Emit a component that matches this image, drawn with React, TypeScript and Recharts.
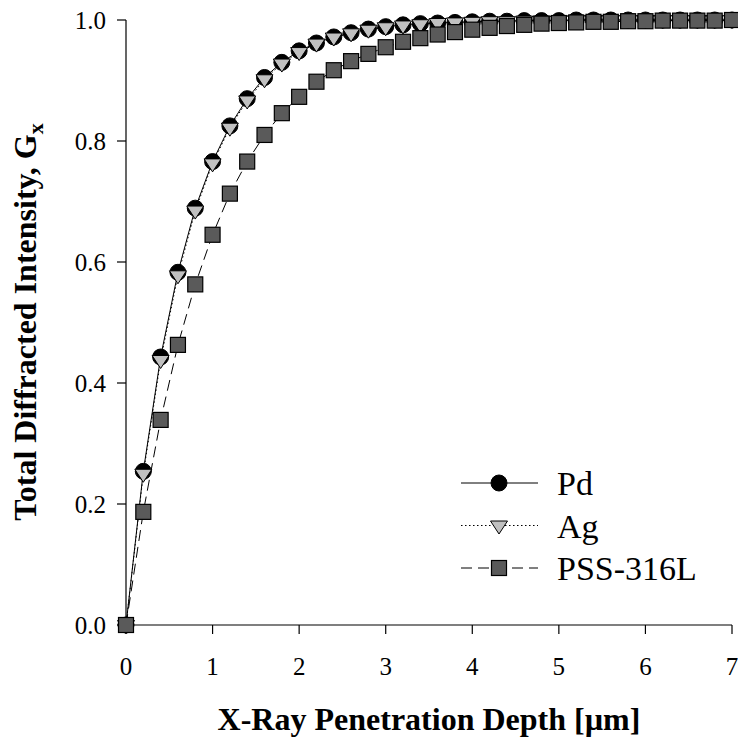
import React from 'react';
import { ComposedChart, Line, XAxis, YAxis } from 'recharts';

const depth = [0, 0.2, 0.4, 0.6, 0.8, 1.0, 1.2, 1.4, 1.6, 1.8, 2.0, 2.2, 2.4, 2.6, 2.8, 3.0, 3.2, 3.4, 3.6, 3.8, 4.0, 4.2, 4.4, 4.6, 4.8, 5.0, 5.2, 5.4, 5.6, 5.8, 6.0, 6.2, 6.4, 6.6, 6.8, 7.0];
const pd = [0, 0.254, 0.443, 0.583, 0.689, 0.766, 0.825, 0.870, 0.905, 0.930, 0.949, 0.962, 0.972, 0.979, 0.985, 0.989, 0.992, 0.994, 0.995, 0.996, 0.997, 0.998, 0.998, 0.999, 0.999, 0.999, 1.0, 1.0, 1.0, 1.0, 1.0, 1.0, 1.0, 1.0, 1.0, 1.0];
const ag = [0, 0.250, 0.438, 0.578, 0.685, 0.763, 0.822, 0.867, 0.902, 0.928, 0.947, 0.961, 0.971, 0.978, 0.984, 0.988, 0.991, 0.993, 0.995, 0.996, 0.997, 0.998, 0.998, 0.999, 0.999, 0.999, 1.0, 1.0, 1.0, 1.0, 1.0, 1.0, 1.0, 1.0, 1.0, 1.0];
const pss = [0, 0.187, 0.339, 0.463, 0.563, 0.645, 0.713, 0.766, 0.810, 0.846, 0.873, 0.898, 0.917, 0.932, 0.944, 0.955, 0.964, 0.970, 0.976, 0.980, 0.984, 0.987, 0.990, 0.992, 0.994, 0.995, 0.996, 0.997, 0.997, 0.998, 0.998, 0.999, 0.999, 0.999, 0.999, 1.0];

const xTicks = [0, 1, 2, 3, 4, 5, 6, 7];
const xMinorTicks = [0.5, 1.5, 2.5, 3.5, 4.5, 5.5, 6.5];
const yTicks = [0, 0.2, 0.4, 0.6, 0.8, 1.0];
const yMinorTicks = [0.1, 0.3, 0.5, 0.7, 0.9];

const seriesNames = ['Pd', 'Ag', 'PSS-316L'];
const xTitle = 'X-Ray Penetration Depth [\u00b5m]';
const yTitle = 'Total Diffracted Intensity, G';
const yTitleSub = 'x';

const data = depth.map((d, i) => ({ depth: d, pd: pd[i], ag: ag[i], pss: pss[i] }));

const SERIF = 'Liberation Serif';

function CircleMark({ cx, cy }: { cx: number; cy: number }) {
  return <circle cx={cx} cy={cy} r={8} fill="#000" stroke="#000" strokeWidth={1} />;
}
function TriMark({ cx, cy }: { cx: number; cy: number }) {
  const p = `${cx - 8.5},${cy - 4.5} ${cx + 8.5},${cy - 4.5} ${cx},${cy + 8.5}`;
  return <polygon points={p} fill="#c0c0c0" stroke="#000" strokeWidth={1} />;
}
function SquareMark({ cx, cy }: { cx: number; cy: number }) {
  return <rect x={cx - 7.5} y={cy - 7.5} width={15} height={15} fill="#5a5a5a" stroke="#000" strokeWidth={1.2} />;
}

const dotFn = (Mark: any) => (props: any) => {
  const { cx, cy, index } = props;
  if (cx == null || cy == null) return <g key={index} />;
  return <Mark key={index} cx={cx} cy={cy} />;
};

const legendRows = [
  { name: seriesNames[0], Mark: CircleMark, dash: undefined },
  { name: seriesNames[1], Mark: TriMark, dash: '1.5 2.5' },
  { name: seriesNames[2], Mark: SquareMark, dash: '11 6' },
];

const axisStroke = { stroke: '#000', strokeWidth: 1.2 };
const tickFont = { fontFamily: SERIF, fontSize: 25, fill: '#000' };

export default function App() {
  return (
    <div style={{ position: 'absolute', left: 0, top: 0 }}>
      <ComposedChart width={738} height={738} data={data} margin={{ top: 20, right: 6, bottom: 0, left: 0 }}>
        <XAxis xAxisId="b" dataKey="depth" type="number" domain={[0, 7]} ticks={xTicks} orientation="bottom" height={113}
          tickSize={9} tickMargin={23} axisLine={axisStroke} tickLine={axisStroke}
          tick={tickFont} interval={0} />
        <XAxis xAxisId="bIn" dataKey="depth" type="number" domain={[0, 7]} ticks={xTicks} orientation="bottom" mirror
          tickSize={8} tick={false} axisLine={false} tickLine={axisStroke} interval={0} />
        <XAxis xAxisId="bInMin" dataKey="depth" type="number" domain={[0, 7]} ticks={xMinorTicks} orientation="bottom" mirror
          tickSize={5} tick={false} axisLine={false} tickLine={axisStroke} interval={0} />
        <XAxis xAxisId="t" dataKey="depth" type="number" domain={[0, 7]} ticks={xTicks} orientation="top" height={0}
          tickSize={8} tick={false} axisLine={axisStroke} tickLine={axisStroke} interval={0} />
        <XAxis xAxisId="tIn" dataKey="depth" type="number" domain={[0, 7]} ticks={xTicks} orientation="top" mirror
          tickSize={8} tick={false} axisLine={false} tickLine={axisStroke} interval={0} />
        <XAxis xAxisId="tInMin" dataKey="depth" type="number" domain={[0, 7]} ticks={xMinorTicks} orientation="top" mirror
          tickSize={5} tick={false} axisLine={false} tickLine={axisStroke} interval={0} />
        <YAxis yAxisId="l" type="number" domain={[0, 1]} ticks={yTicks} orientation="left" width={126}
          tickSize={9} tickMargin={11} axisLine={axisStroke} tickLine={axisStroke} interval={0}
          tickFormatter={(v: number) => v.toFixed(1)}
          tick={tickFont} />
        <YAxis yAxisId="lIn" type="number" domain={[0, 1]} ticks={yTicks} orientation="left" mirror
          tickSize={8} tick={false} axisLine={false} tickLine={axisStroke} interval={0} />
        <YAxis yAxisId="lInMin" type="number" domain={[0, 1]} ticks={yMinorTicks} orientation="left" mirror
          tickSize={5} tick={false} axisLine={false} tickLine={axisStroke} interval={0} />
        <YAxis yAxisId="r" type="number" domain={[0, 1]} ticks={yTicks} orientation="right" width={0}
          tickSize={8} tick={false} axisLine={axisStroke} tickLine={axisStroke} interval={0} />
        <YAxis yAxisId="rIn" type="number" domain={[0, 1]} ticks={yTicks} orientation="right" mirror
          tickSize={8} tick={false} axisLine={false} tickLine={axisStroke} interval={0} />
        <YAxis yAxisId="rInMin" type="number" domain={[0, 1]} ticks={yMinorTicks} orientation="right" mirror
          tickSize={5} tick={false} axisLine={false} tickLine={axisStroke} interval={0} />

        <Line xAxisId="b" yAxisId="l" dataKey="pd" stroke="#000" strokeWidth={1}
          dot={dotFn(CircleMark)} activeDot={false} isAnimationActive={false} />
        <Line xAxisId="b" yAxisId="l" dataKey="ag" stroke="#000" strokeWidth={1} strokeDasharray="1.5 2.5"
          dot={dotFn(TriMark)} activeDot={false} isAnimationActive={false} />
        <Line xAxisId="b" yAxisId="l" dataKey="pss" stroke="#000" strokeWidth={1} strokeDasharray="11 6"
          dot={dotFn(SquareMark)} activeDot={false} isAnimationActive={false} />

        <text x={429} y={730} textAnchor="middle" fontFamily={SERIF} fontWeight="bold" fontSize={32} fill="#000">{xTitle}</text>
        <text x={36} y={322} transform="rotate(-90 36 322)" textAnchor="middle" fontFamily={SERIF} fontWeight="bold" fontSize={32} fill="#000">
          {yTitle}
          <tspan fontSize={22} dy={7}>{yTitleSub}</tspan>
        </text>
        <g>
          {legendRows.map((r, i) => {
            const y = 483 + i * 42.5;
            return (
              <g key={r.name}>
                <line x1={461} x2={538} y1={y} y2={y} stroke="#000" strokeWidth={1} strokeDasharray={r.dash} />
                <r.Mark cx={499} cy={y} />
                <text x={557} y={y + 12} fontFamily={SERIF} fontSize={34} fill="#000">{r.name}</text>
              </g>
            );
          })}
        </g>
      </ComposedChart>
    </div>
  );
}
